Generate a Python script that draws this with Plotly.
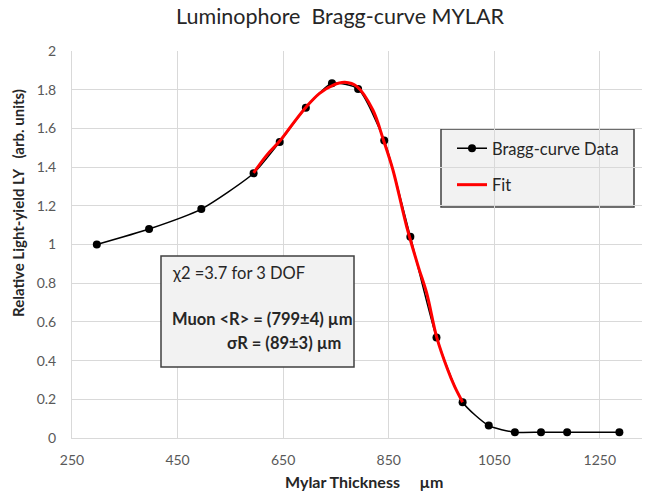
import plotly.graph_objects as go

# Bragg-curve measurement (Mylar thickness in um, relative light yield)
thickness = [297, 396, 495, 594, 643.5, 693, 742.5, 792, 841.5, 891,
             940.5, 990, 1039.5, 1089, 1138.5, 1188, 1287]
light_yield = [1.00, 1.08, 1.183, 1.368, 1.53, 1.707, 1.833, 1.804, 1.537, 1.04,
               0.52, 0.185, 0.064, 0.03, 0.03, 0.03, 0.03]

# Fit curve
fit_x = [594, 619, 644, 669, 694, 719, 745, 767, 790, 820,
         840, 858, 884, 906, 922, 941, 962, 975, 990]
fit_y = [1.37, 1.462, 1.536, 1.626, 1.712, 1.781, 1.824, 1.838, 1.816, 1.695,
         1.54, 1.385, 1.093, 0.886, 0.748, 0.52, 0.351, 0.265, 0.185]

x_ticks = [250, 450, 650, 850, 1050, 1250]

FONT = 'Lato'
GRID = '#d9d9d9'
TEXT = '#595959'
DARK = '#262626'

# the page body adds an 8px offset, so the figure is 8px smaller
OFF = 8
W, H = 650 - OFF, 495 - OFF


def px(x):  # screen pixel -> paper x
    return (x - 72) / 578


def py(y):  # screen pixel -> paper y
    return (438 - y) / 387


fig = go.Figure()
fig.add_trace(go.Scatter(
    x=thickness, y=light_yield, name='Bragg-curve Data',
    mode='lines+markers',
    line=dict(color='black', width=1.5, shape='spline', smoothing=0.6),
    marker=dict(color='black', size=8), legendgroup='a'
))
fig.add_trace(go.Scatter(
    x=fit_x, y=fit_y, name='Fit',
    mode='lines', line=dict(color='#ff0000', width=3, shape='spline'),
    legendgroup='b'
))

# legend box and fit-result box
fig.add_shape(type='rect', xref='paper', yref='paper',
              x0=px(441), x1=px(634), y0=py(207), y1=py(129),
              fillcolor='#f2f2f2', line=dict(color='#404040', width=1.5), layer='below')
fig.add_shape(type='rect', xref='paper', yref='paper',
              x0=px(161), x1=px(354), y0=py(367), y1=py(256),
              fillcolor='#f2f2f2', line=dict(color='#404040', width=1.5))

box_font = dict(family=FONT, size=16.5, color=DARK)
fig.add_annotation(x=px(170), y=py(273), xref='paper', yref='paper',
                   xanchor='left', yanchor='middle',
                   text='χ2 =3.7 for 3 DOF', showarrow=False, font=box_font)
fig.add_annotation(x=px(170), y=py(319), xref='paper', yref='paper',
                   xanchor='left', yanchor='middle',
                   text='<b>Muon &lt;R&gt; = (799±4) µm</b>', showarrow=False, font=box_font)
fig.add_annotation(x=px(225), y=py(343), xref='paper', yref='paper',
                   xanchor='left', yanchor='middle',
                   text='<b>σR = (89±3) µm</b>', showarrow=False, font=box_font)

# axis titles placed like the original
fig.add_annotation(x=px(18), y=py(203), xref='paper', yref='paper',
                   xanchor='center', yanchor='middle',
                   text='<b>Relative Light-yield LY   (arb. units)</b>', textangle=-90,
                   showarrow=False, font=dict(family=FONT, size=15, color=DARK))
fig.add_annotation(x=px(364), y=py(481), xref='paper', yref='paper',
                   xanchor='center', yanchor='middle',
                   text='<b>Mylar Thickness     µm</b>',
                   showarrow=False, font=dict(family=FONT, size=16, color=DARK))

fig.update_layout(
    width=W, height=H,
    title=dict(text='Luminophore  Bragg-curve MYLAR', x=(340 - OFF) / W, y=1 - (16 - OFF) / H,
               xanchor='center', yanchor='middle',
               font=dict(family=FONT, size=21.5, color=DARK)),
    paper_bgcolor='white', plot_bgcolor='white',
    font=dict(family=FONT, size=14, color=TEXT),
    margin=dict(l=72 - OFF, r=0, t=51 - OFF, b=H - (438 - OFF)),
    showlegend=True,
    legend=dict(x=px(452), y=py(131), xanchor='left', yanchor='top',
                bgcolor='rgba(0,0,0,0)', borderwidth=0, traceorder='grouped',
                tracegroupgap=12, font=dict(family=FONT, size=16.5, color=DARK)),
)
fig.update_xaxes(range=[250, 1345], tickvals=x_ticks, showgrid=True, gridcolor=GRID,
                 showline=True, linecolor=GRID, linewidth=1, zeroline=False,
                 ticks='outside', ticklen=9, tickcolor='rgba(0,0,0,0)')
fig.update_yaxes(range=[0, 2], dtick=0.2, showgrid=True, gridcolor=GRID,
                 showline=True, linecolor=GRID, linewidth=1, zeroline=False,
                 ticks='outside', ticklen=12, tickcolor='rgba(0,0,0,0)')

fig.write_html('out.html')
